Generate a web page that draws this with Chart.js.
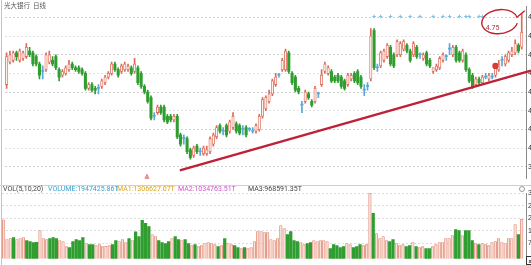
<!DOCTYPE html>
<html>
<head>
<meta charset="utf-8">
<script src="https://cdn.jsdelivr.net/npm/chart.js@4.4.1/dist/chart.umd.min.js"></script>
<style>
html, body { margin: 0; padding: 0; background: #fff; overflow: hidden; width: 531px; height: 265px; }
#wrap { position: relative; width: 531px; height: 265px; overflow: hidden; font-family: Roboto, "Noto Sans CJK SC", sans-serif; }
#priceChart { position: absolute; left: 0; top: 0; }
#volChart { position: absolute; left: 0; top: 185px; }
.title { position: absolute; left: 4px; top: 0; font: 6.5px "Noto Sans CJK SC"; color: #555; white-space: pre; }
.head { position: absolute; top: 185px; font: 7px Roboto, sans-serif; line-height: 8px; white-space: pre; }
.sep { position: absolute; left: 0; top: 185px; width: 531px; height: 1px; background: #d0d0d0; }
.lborder { position: absolute; left: 1px; top: 0; width: 1px; height: 265px; background: #c4c4c4; }
.flag { position: absolute; left: 144px; top: 174px; font: 7px "DejaVu Sans"; color: #d03030; }
.gear { position: absolute; left: 519px; top: 186px; width: 4px; height: 4px; border: 1px solid #999; border-radius: 50%; }
.xbox { position: absolute; left: 526px; top: 256px; width: 6px; height: 7px; border: 1px solid #333; font: 6px Roboto; line-height: 7px; text-align: center; }
</style>
</head>
<body>
<div id="wrap">
  <canvas id="priceChart" width="575" height="185"></canvas>
  <canvas id="volChart" width="575" height="80"></canvas>
  <div class="lborder"></div>
  <div class="sep"></div>
  <div class="title">光大银行  日线</div>
  <div class="flag">≙</div>
  <span class="head" style="left:3px;color:#444">VOL(5,10,20)</span>
  <span class="head" style="left:48px;color:#3c9fc9">VOLUME:1947425.86T</span>
  <span class="head" style="left:117px;color:#d9a21e">MA1:1306627.07T</span>
  <span class="head" style="left:178px;color:#cc55c8">MA2:1034763.51T</span>
  <span class="head" style="left:248px;color:#444">MA3:968591.35T</span>
  <div class="gear"></div>
  <div class="xbox">x</div>
</div>
<script>
// Daily candles (oldest -> newest)
const openPrices = [
  4.37, 4.49, 4.50, 4.54, 4.50, 4.51, 4.52, 4.55, 4.54, 4.52,
  4.48, 4.44, 4.45, 4.49, 4.50, 4.52, 4.45, 4.42, 4.43, 4.45,
  4.48, 4.46, 4.46, 4.45, 4.43, 4.35, 4.37, 4.35, 4.35, 4.36,
  4.38, 4.41, 4.43, 4.48, 4.45, 4.44, 4.45, 4.45, 4.46, 4.44,
  4.46, 4.43, 4.36, 4.33, 4.30, 4.20, 4.22, 4.25, 4.25, 4.20,
  4.20, 4.18, 4.20, 4.10, 4.08, 4.08, 4.02, 3.99, 4.04, 4.01,
  4.00, 4.00, 4.01, 4.05, 4.09, 4.15, 4.12, 4.15, 4.12, 4.14,
  4.16, 4.15, 4.13, 4.14, 4.13, 4.12, 4.12, 4.13, 4.20, 4.24,
  4.28, 4.32, 4.37, 4.42, 4.45, 4.45, 4.54, 4.43, 4.41, 4.35,
  4.26, 4.28, 4.32, 4.28, 4.28, 4.32, 4.37, 4.44, 4.43, 4.44,
  4.41, 4.42, 4.41, 4.39, 4.37, 4.40, 4.43, 4.44, 4.41, 4.34,
  4.36, 4.40, 4.66, 4.46, 4.47, 4.50, 4.52, 4.57, 4.53, 4.53,
  4.53, 4.56, 4.58, 4.55, 4.53, 4.57, 4.53, 4.51, 4.54, 4.50,
  4.44, 4.45, 4.46, 4.50, 4.52, 4.56, 4.53, 4.57, 4.54, 4.50,
  4.53, 4.45, 4.42, 4.37, 4.40, 4.38, 4.41, 4.40, 4.41, 4.42,
  4.45, 4.50, 4.48, 4.50, 4.53, 4.54, 4.58, 4.57
];
const highPrices = [
  4.54, 4.55, 4.55, 4.55, 4.56, 4.55, 4.59, 4.57, 4.55, 4.53,
  4.49, 4.47, 4.54, 4.55, 4.52, 4.53, 4.46, 4.45, 4.47, 4.50,
  4.49, 4.47, 4.47, 4.46, 4.44, 4.38, 4.38, 4.36, 4.37, 4.40,
  4.42, 4.44, 4.49, 4.49, 4.46, 4.48, 4.49, 4.48, 4.47, 4.51,
  4.47, 4.44, 4.37, 4.34, 4.31, 4.22, 4.26, 4.26, 4.26, 4.21,
  4.21, 4.21, 4.21, 4.11, 4.10, 4.09, 4.03, 4.04, 4.05, 4.03,
  4.04, 4.04, 4.09, 4.11, 4.15, 4.16, 4.14, 4.16, 4.18, 4.22,
  4.17, 4.16, 4.15, 4.15, 4.14, 4.14, 4.16, 4.21, 4.30, 4.31,
  4.34, 4.40, 4.43, 4.43, 4.51, 4.56, 4.55, 4.44, 4.42, 4.36,
  4.28, 4.34, 4.33, 4.29, 4.36, 4.33, 4.45, 4.49, 4.47, 4.45,
  4.42, 4.43, 4.42, 4.40, 4.43, 4.43, 4.44, 4.45, 4.42, 4.37,
  4.38, 4.67, 4.67, 4.48, 4.55, 4.56, 4.59, 4.58, 4.54, 4.61,
  4.60, 4.61, 4.59, 4.56, 4.60, 4.58, 4.54, 4.54, 4.55, 4.51,
  4.46, 4.48, 4.52, 4.54, 4.53, 4.59, 4.58, 4.58, 4.55, 4.56,
  4.54, 4.46, 4.43, 4.41, 4.41, 4.42, 4.43, 4.43, 4.43, 4.47,
  4.50, 4.52, 4.53, 4.55, 4.57, 4.61, 4.59, 4.75
];
const lowPrices = [
  4.35, 4.48, 4.49, 4.50, 4.49, 4.50, 4.51, 4.52, 4.47, 4.47,
  4.40, 4.40, 4.44, 4.48, 4.47, 4.45, 4.39, 4.41, 4.42, 4.44,
  4.45, 4.44, 4.43, 4.42, 4.34, 4.34, 4.33, 4.32, 4.32, 4.35,
  4.37, 4.40, 4.42, 4.44, 4.41, 4.43, 4.44, 4.44, 4.42, 4.43,
  4.37, 4.35, 4.32, 4.27, 4.18, 4.18, 4.21, 4.21, 4.17, 4.16,
  4.17, 4.17, 4.08, 4.04, 4.05, 4.00, 3.97, 3.98, 4.00, 3.99,
  3.99, 3.99, 4.00, 4.04, 4.08, 4.11, 4.10, 4.09, 4.11, 4.13,
  4.11, 4.10, 4.10, 4.09, 4.12, 4.11, 4.11, 4.12, 4.19, 4.23,
  4.27, 4.31, 4.36, 4.41, 4.44, 4.44, 4.43, 4.37, 4.33, 4.32,
  4.22, 4.27, 4.29, 4.25, 4.27, 4.30, 4.36, 4.43, 4.42, 4.38,
  4.38, 4.38, 4.35, 4.34, 4.36, 4.39, 4.38, 4.37, 4.35, 4.31,
  4.34, 4.39, 4.45, 4.44, 4.46, 4.49, 4.51, 4.47, 4.46, 4.52,
  4.52, 4.55, 4.54, 4.49, 4.52, 4.51, 4.51, 4.50, 4.47, 4.46,
  4.43, 4.44, 4.45, 4.49, 4.50, 4.53, 4.52, 4.49, 4.49, 4.49,
  4.44, 4.38, 4.35, 4.36, 4.37, 4.37, 4.40, 4.39, 4.40, 4.41,
  4.44, 4.47, 4.47, 4.49, 4.52, 4.53, 4.54, 4.56
];
const closePrices = [
  4.52, 4.53, 4.54, 4.52, 4.55, 4.54, 4.57, 4.53, 4.48, 4.48,
  4.42, 4.44, 4.53, 4.53, 4.48, 4.46, 4.41, 4.44, 4.46, 4.48,
  4.46, 4.45, 4.44, 4.43, 4.35, 4.37, 4.34, 4.34, 4.35, 4.39,
  4.41, 4.43, 4.48, 4.45, 4.42, 4.47, 4.48, 4.47, 4.43, 4.48,
  4.38, 4.36, 4.33, 4.28, 4.19, 4.20, 4.25, 4.22, 4.18, 4.17,
  4.18, 4.20, 4.09, 4.05, 4.08, 4.01, 3.98, 4.03, 4.01, 4.01,
  4.03, 4.02, 4.08, 4.10, 4.14, 4.12, 4.12, 4.10, 4.17, 4.20,
  4.12, 4.11, 4.13, 4.10, 4.13, 4.12, 4.15, 4.20, 4.29, 4.30,
  4.32, 4.39, 4.41, 4.42, 4.50, 4.55, 4.44, 4.38, 4.34, 4.33,
  4.26, 4.33, 4.30, 4.26, 4.35, 4.32, 4.42, 4.48, 4.46, 4.39,
  4.39, 4.39, 4.36, 4.35, 4.42, 4.42, 4.39, 4.38, 4.36, 4.34,
  4.36, 4.63, 4.46, 4.46, 4.54, 4.55, 4.58, 4.48, 4.47, 4.60,
  4.59, 4.60, 4.55, 4.50, 4.59, 4.52, 4.53, 4.53, 4.48, 4.47,
  4.46, 4.47, 4.51, 4.53, 4.52, 4.56, 4.57, 4.50, 4.50, 4.55,
  4.45, 4.39, 4.36, 4.40, 4.38, 4.41, 4.41, 4.42, 4.41, 4.46,
  4.48, 4.50, 4.52, 4.54, 4.55, 4.59, 4.55, 4.65
];
// Volume in thousands
const volumesK = [
  1930, 950, 1000, 1050, 950, 1000, 1050, 900, 850, 800,
  820, 1400, 1000, 950, 1000, 1050, 1000, 900, 850, 600,
  550, 850, 950, 900, 1050, 750, 700, 700, 650, 700,
  600, 620, 650, 700, 900, 850, 950, 800, 1000, 900,
  1330, 1100, 1900, 1750, 1600, 1200, 1100, 900, 800, 750,
  850, 1000, 1100, 950, 900, 950, 750, 650, 700, 600,
  650, 750, 800, 750, 700, 600, 650, 1000, 750, 700,
  650, 550, 500, 550, 500, 550, 850, 1350, 1350, 1300,
  1300, 950, 900, 1000, 1650, 1500, 1200, 1350, 900, 850,
  800, 700, 750, 800, 900, 850, 900, 900, 850, 500,
  700, 650, 550, 600, 750, 700, 550, 600, 700, 650,
  700, 3250, 2250, 1250, 1000, 1100, 900, 850, 950, 750,
  650, 700, 600, 650, 800, 600, 550, 600, 500, 500,
  600, 700, 800, 800, 1000, 1000, 1150, 1450, 1400, 1150,
  1400, 1400, 900, 750, 700, 750, 700, 650, 800, 850,
  1000, 800, 750, 1000, 1000, 1700, 1200, 1950
];
const maPeriods = [5, 10, 20];
const priceTicks = [4.73, 4.63, 4.53, 4.43, 4.33, 4.23, 4.13, 4.03, 3.93];
const volTicksK = [3250, 2630, 2010, 1390, 770];
// hand-drawn trend line (day index, price) and marks
const trendDays = [52.8, 159.8];
const trendPrices = [3.91, 4.445];
const dotDay = 149, dotPrice = 4.47;
const markerDays = [112, 114, 117, 120, 123, 126, 130, 133, 135, 138, 140, 141, 144, 145];
const markerPrice = 4.735;

const UP = '#dc6b58', UP_FILL = '#fff1ec', DOWN = '#2f9d2f', FLAT = '#5aa9d8';
const VOL_UP = '#e08a76', VOL_UP_FILL = '#fbe0d8';
const days = openPrices.map((_, i) => i);

function candleColor(i) {
    if (closePrices[i] > openPrices[i]) return UP;
    if (closePrices[i] < openPrices[i]) return DOWN;
    return FLAT;
}

function movingAverage(period) {
    return days.map(i => {
        if (i < period - 1) return null;
        let s = 0;
        for (let k = i - period + 1; k <= i; k++) s += volumesK[k];
        return { x: i, y: s / period };
    });
}

// linear day axis, no bar offset so day i sits at a fixed pixel step
const xAxis = { type: 'linear', min: -0.5, max: 158.3, offset: false, bounds: 'data', display: false };

// circled high-price note, hand-drawn look
const highNote = {
    id: 'highNote',
    afterDatasetsDraw(chart) {
        const { ctx, scales: { x, y } } = chart;
        const last = highPrices.length - 1;
        const px = x.getPixelForValue(last);
        const py = y.getPixelForValue(highPrices[last]);
        ctx.save();
        ctx.strokeStyle = '#c4202c';
        ctx.lineWidth = 1.4;
        ctx.beginPath();
        ctx.ellipse(px - 22, py + 8, 18, 12, -0.12, 0.3, Math.PI * 2 - 0.2);
        ctx.lineTo(px + 3, py - 3);
        ctx.stroke();
        ctx.fillStyle = '#a03a3a';
        ctx.font = '7px Roboto';
        ctx.fillText(highPrices[last].toFixed(2), px - 36, py + 16);
        ctx.restore();
    }
};

new Chart(document.getElementById('priceChart'), {
    type: 'bar',
    data: {
        datasets: [
            {
                type: 'line',
                data: trendDays.map((d, i) => ({ x: d, y: trendPrices[i] })),
                borderColor: '#be2038',
                borderWidth: 2.4,
                pointRadius: 0,
                clip: false,
                order: 0
            },
            {
                type: 'line',
                data: [{ x: dotDay, y: dotPrice }],
                showLine: false,
                pointRadius: 3.2,
                pointBackgroundColor: '#d93a3a',
                pointBorderWidth: 0,
                order: 0
            },
            {
                type: 'line',
                data: markerDays.map(d => ({ x: d, y: markerPrice })),
                showLine: false,
                pointStyle: 'cross',
                pointRadius: 1.8,
                pointBorderColor: '#7fc0e4',
                pointBorderWidth: 1,
                order: 1
            },
            {
                data: days.map(i => ({ x: i, y: [Math.min(openPrices[i], closePrices[i]), Math.max(openPrices[i], closePrices[i])] })),
                grouped: false,
                barThickness: 2.4,
                minBarLength: 1,
                backgroundColor: c => closePrices[c.dataIndex] > openPrices[c.dataIndex] ? UP_FILL : candleColor(c.dataIndex),
                borderColor: c => candleColor(c.dataIndex),
                borderWidth: c => closePrices[c.dataIndex] > openPrices[c.dataIndex] ? 0.8 : 0,
                borderSkipped: false,
                order: 2
            },
            {
                data: days.map(i => ({ x: i, y: [lowPrices[i], highPrices[i]] })),
                grouped: false,
                barThickness: 1,
                backgroundColor: c => candleColor(c.dataIndex),
                order: 3
            }
        ]
    },
    options: {
        responsive: false,
        animation: false,
        layout: { padding: { left: 2, top: 0, bottom: 0, right: 0 } },
        plugins: { legend: { display: false }, tooltip: { enabled: false } },
        scales: {
            x: xAxis,
            y: {
                position: 'right',
                min: 3.865,
                max: 4.79,
                afterFit(s) { s.width = 49; },
                afterBuildTicks(s) { s.ticks = priceTicks.map(v => ({ value: v })); },
                ticks: { font: { size: 7 }, color: '#333', padding: 2, callback: v => v.toFixed(2) },
                grid: { color: c => (c.index % 2 ? '#e2e2e2' : '#cfcfcf'), drawTicks: false },
                border: { display: true, color: '#8a8a8a', dash: [2, 2] }
            }
        }
    },
    plugins: [highNote]
});

new Chart(document.getElementById('volChart'), {
    type: 'bar',
    data: {
        datasets: [
            { type: 'line', data: movingAverage(maPeriods[0]), borderColor: '#e3b04a', borderWidth: 1, pointRadius: 0, order: 0 },
            { type: 'line', data: movingAverage(maPeriods[1]), borderColor: '#d682d0', borderWidth: 1, pointRadius: 0, order: 0 },
            { type: 'line', data: movingAverage(maPeriods[2]), borderColor: '#55607a', borderWidth: 1, pointRadius: 0, order: 0 },
            {
                data: days.map(i => ({ x: i, y: volumesK[i] })),
                grouped: false,
                barThickness: 2.6,
                backgroundColor: c => closePrices[c.dataIndex] >= openPrices[c.dataIndex] ? VOL_UP_FILL : DOWN,
                borderColor: c => closePrices[c.dataIndex] >= openPrices[c.dataIndex] ? VOL_UP : DOWN,
                borderWidth: c => closePrices[c.dataIndex] >= openPrices[c.dataIndex] ? 0.8 : 0,
                borderSkipped: 'bottom',
                order: 1
            }
        ]
    },
    options: {
        responsive: false,
        animation: false,
        layout: { padding: { left: 2, top: 8, bottom: 1, right: 0 } },
        plugins: { legend: { display: false }, tooltip: { enabled: false } },
        scales: {
            x: xAxis,
            y: {
                position: 'right',
                min: 0,
                max: 3257,
                afterFit(s) { s.width = 49; },
                afterBuildTicks(s) { s.ticks = volTicksK.map(v => ({ value: v })); },
                ticks: { font: { size: 7 }, color: '#333', padding: 2, callback: v => String(v * 1000) },
                grid: { color: '#dcdcdc', drawTicks: false },
                border: { display: true, color: '#8a8a8a', dash: [2, 2] }
            }
        }
    }
});
</script>
</body>
</html>
